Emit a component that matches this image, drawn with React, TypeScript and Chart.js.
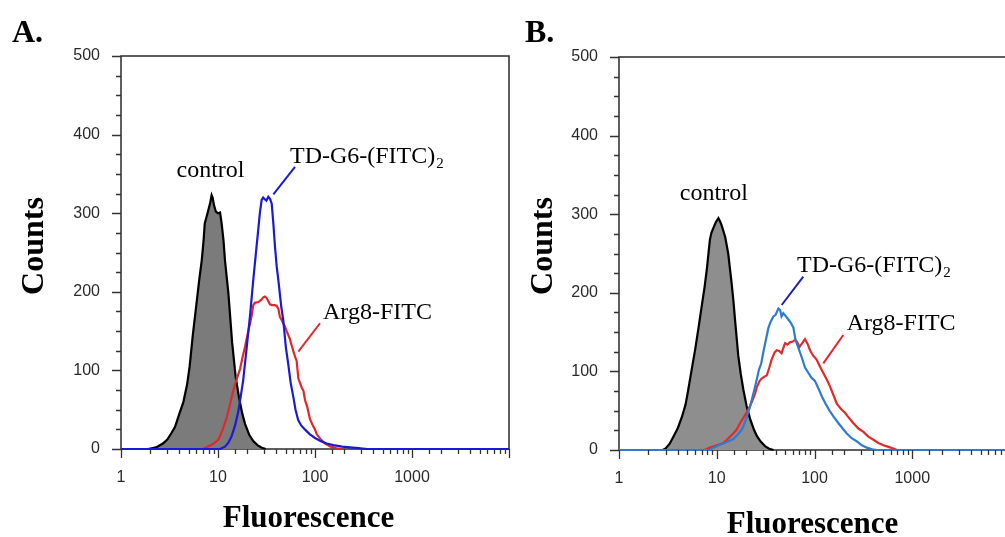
import React, { useEffect, useRef } from 'react';
import { Chart, registerables } from 'chart.js';

Chart.register(...registerables);

// ---------- tick labels ----------
const xTickLabels = [1, 10, 100, 1000];
const yTickLabels = [0, 100, 200, 300, 400, 500];

// ---------- Panel A ----------
const aControlX = [1.9, 2.3, 2.7, 3.0, 3.3, 3.6, 4.0, 4.4, 4.8, 5.1, 5.5, 6.0, 6.4, 6.8, 7.1, 7.3, 7.8, 8.3, 8.6, 8.8, 9.1, 9.5, 10.0, 10.5, 10.9, 11.4, 11.8, 12.8, 14.0, 15.2, 16.5, 17.8, 19.0, 21.0, 23.1, 25.5, 28.0, 31.0];
const aControlY = [0, 2, 7, 12, 20, 28, 45, 60, 82, 105, 145, 185, 215, 240, 265, 287, 300, 313, 323, 320, 310, 302, 300, 301, 287, 265, 240, 198, 135, 92, 65, 45, 32, 18, 10, 5, 2, 0];

const aTdX = [1, 10.5, 11.8, 12.8, 13.8, 15.0, 16.2, 17.2, 18.2, 19.8, 21.4, 23.1, 24.0, 25.0, 26.0, 27.0, 28.2, 29.2, 30.2, 31.5, 33.0, 34.5, 35.8, 37.3, 38.7, 40.3, 41.9, 45.0, 47.0, 50.0, 53.0, 56.0, 60.0, 63.0, 67.0, 72.0, 80.0, 88.0, 100, 115, 132, 155, 190, 230, 280, 345, 10000];
const aTdY = [0, 0, 3, 8, 16, 30, 48, 68, 88, 130, 170, 215, 236, 258, 279, 300, 317, 320, 318, 316, 321, 318, 312, 285, 257, 232, 215, 180, 165, 130, 108, 85, 65, 50, 37, 30, 24, 19, 14, 10, 7, 5, 3, 2, 1, 0, 0];

const aArgX = [1, 7.0, 7.5, 8.5, 9.5, 10.1, 11.2, 12.3, 13.3, 14.4, 15.5, 16.9, 18.0, 19.0, 20.2, 21.4, 22.3, 23.1, 24.0, 26.0, 28.0, 29.3, 30.5, 31.8, 33.0, 34.4, 36.0, 38.7, 40.3, 42.0, 43.5, 45.4, 47.0, 49.0, 51.0, 55.0, 58.0, 62.0, 64.7, 67.3, 70.0, 73.0, 76.0, 79.0, 83.0, 88.8, 95.0, 100, 104, 115, 127, 145, 167, 190];
const aArgY = [0, 0, 2, 5, 9, 12, 25, 40, 57, 75, 88, 102, 118, 130, 146, 160, 170, 183, 186, 187, 190, 193, 194, 192, 188, 184, 183, 183, 182, 178, 168, 164, 160, 156, 150, 140, 130, 118, 112, 90, 84, 78, 74, 62, 54, 38, 30, 25, 19, 12, 7, 3, 1, 0];

// ---------- Panel B ----------
const bControlX = [2.8, 3.0, 3.3, 3.6, 4.0, 4.4, 4.8, 5.1, 5.5, 6.0, 6.5, 7.0, 7.5, 7.9, 8.5, 8.8, 9.2, 9.8, 10.4, 10.8, 11.2, 12.2, 13.1, 14.2, 14.8, 15.4, 16.6, 17.6, 18.7, 20.2, 21.9, 24.0, 25.7, 28.0, 31.2, 34.0, 38.0];
const bControlY = [0, 2, 8, 17, 28, 42, 58, 76, 100, 127, 155, 182, 207, 229, 267, 276, 282, 290, 295, 291, 286, 271, 250, 212, 190, 165, 120, 97, 77, 56, 40, 26, 18, 11, 5, 2, 0];

const bTdX = [1, 8.5, 9.2, 10.5, 12.0, 13.7, 14.8, 16.5, 18.0, 18.7, 20.0, 21.9, 23.7, 25.7, 27.0, 28.5, 30.0, 31.8, 33.7, 35.5, 38.0, 40.0, 42.7, 44.5, 46.0, 48.0, 51.0, 54.0, 57.0, 60.7, 64.0, 68.0, 74.0, 80.0, 86.7, 93.0, 101, 110, 119, 131, 144, 160, 176, 195, 214, 240, 271, 305, 343, 390, 434, 10000];
const bTdY = [0, 0, 3, 6, 9, 12, 14, 20, 26, 30, 40, 55, 72, 90, 102, 110, 125, 140, 155, 163, 170, 172, 180, 178, 170, 174, 170, 166, 162, 156, 140, 131, 118, 105, 98, 92, 88, 78, 68, 58, 49, 41, 34, 27, 21, 15, 11, 6, 3, 1, 0, 0];

const bArgX = [1, 7.5, 8.5, 10.0, 11.7, 12.7, 14.5, 16.0, 17.3, 18.5, 20.3, 21.9, 23.0, 24.7, 25.7, 27.5, 28.8, 30.5, 32.5, 34.5, 36.4, 39.0, 41.0, 43.5, 46.0, 48.0, 50.0, 53.0, 56.0, 60.0, 63.0, 66.0, 70.0, 74.0, 80.0, 85.0, 90.0, 97.0, 105, 114, 123, 133, 144, 156, 169, 187, 206, 228, 250, 283, 317, 355, 401, 450, 507, 570, 641, 700];
const bArgY = [0, 0, 3, 6, 9, 13, 20, 26, 34, 40, 48, 56, 62, 72, 80, 88, 91, 93, 95, 105, 115, 124, 127, 126, 123, 130, 136, 134, 137, 138, 140, 138, 131, 135, 141, 135, 127, 120, 115, 106, 98, 90, 81, 70, 59, 52, 47, 40, 34, 27, 23, 17, 13, 9, 6, 4, 2, 0];

// ---------- annotation anchors (data coordinates) ----------
const aNotes = [
  { text: 'control', x: 8.37, y: 346, align: 'center' },
  { text: 'TD-G6-(FITC)', sub: '2', x: 55.2, y: 364, align: 'left' },
  { text: 'Arg8-FITC', x: 120.9, y: 166, align: 'left' },
];
const aPointers = [
  { x1: 62.2, y1: 359, x2: 37.2, y2: 324, color: '#1a1ad6' },
  { x1: 112.6, y1: 160, x2: 67.3, y2: 124, color: '#e3262b' },
];
const bNotes = [
  { text: 'control', x: 9.33, y: 318, align: 'center' },
  { text: 'TD-G6-(FITC)', sub: '2', x: 66.2, y: 226.5, align: 'left' },
  { text: 'Arg8-FITC', x: 213.4, y: 152.7, align: 'left' },
];
const bPointers = [
  { x1: 76.8, y1: 220.5, x2: 46.2, y2: 184.5, color: '#2020b0' },
  { x1: 197, y1: 146.3, x2: 123, y2: 110.3, color: '#e3262b' },
];

const SERIF = '"Liberation Serif", "Times New Roman", serif';
const SANS = '"Liberation Sans", Arial, sans-serif';

const isDecade = (v: number) => {
  const l = Math.log10(v);
  return Math.abs(l - Math.round(l)) < 1e-6;
};

const pts = (xs: number[], ys: number[]) => xs.map((x, i) => ({ x, y: ys[i] }));

type PanelCfg = {
  letter: string;
  letterX: number;
  countsX: number;
  fluorX: number;
  fluorY: number;
  notes: any[];
  pointers: any[];
};

function decorPlugin(cfg: PanelCfg) {
  return {
    id: 'decor',
    beforeDatasetsDraw(chart: any) {
      const { ctx, chartArea: ca } = chart;
      ctx.save();
      ctx.strokeStyle = '#2a2a2a';
      ctx.lineWidth = 1.5;
      ctx.strokeRect(ca.left, ca.top, ca.right - ca.left, ca.bottom - ca.top);
      ctx.restore();
    },
    afterDraw(chart: any) {
      const { ctx, chartArea: ca, scales } = chart;
      const xs = scales.x;
      const ys = scales.y;
      ctx.save();
      // tick marks
      ctx.strokeStyle = '#333';
      ctx.lineWidth = 1.3;
      ctx.beginPath();
      for (const t of xs.ticks) {
        const px = Math.round(xs.getPixelForValue(t.value)) + 0.5;
        const major = isDecade(t.value);
        ctx.moveTo(px, ca.bottom);
        ctx.lineTo(px, ca.bottom + (major ? 9 : 5));
      }
      for (const t of ys.ticks) {
        const py = Math.round(ys.getPixelForValue(t.value)) + 0.5;
        const major = yTickLabels.includes(t.value);
        ctx.moveTo(ca.left, py);
        ctx.lineTo(ca.left - (major ? 9 : 5), py);
      }
      ctx.stroke();

      // panel letter
      ctx.fillStyle = '#000';
      ctx.textBaseline = 'alphabetic';
      ctx.textAlign = 'left';
      ctx.font = `bold 32px ${SERIF}`;
      ctx.fillText(cfg.letter, cfg.letterX, 42);

      // axis titles
      ctx.save();
      ctx.translate(cfg.countsX, 246);
      ctx.rotate(-Math.PI / 2);
      ctx.textAlign = 'center';
      ctx.font = `bold 32px ${SERIF}`;
      ctx.fillText('Counts', 0, 0);
      ctx.restore();

      ctx.textAlign = 'center';
      ctx.font = `bold 31px ${SERIF}`;
      ctx.fillText('Fluorescence', cfg.fluorX, cfg.fluorY);

      // pointers
      ctx.lineWidth = 2;
      for (const p of cfg.pointers) {
        ctx.strokeStyle = p.color;
        ctx.beginPath();
        ctx.moveTo(xs.getPixelForValue(p.x1), ys.getPixelForValue(p.y1));
        ctx.lineTo(xs.getPixelForValue(p.x2), ys.getPixelForValue(p.y2));
        ctx.stroke();
      }

      // notes
      for (const n of cfg.notes) {
        const px = xs.getPixelForValue(n.x);
        const py = ys.getPixelForValue(n.y);
        ctx.font = `24px ${SERIF}`;
        ctx.textAlign = n.align;
        ctx.fillStyle = '#000';
        ctx.fillText(n.text, px, py);
        if (n.sub) {
          const w = ctx.measureText(n.text).width;
          ctx.font = `15px ${SERIF}`;
          ctx.textAlign = 'left';
          ctx.fillText(n.sub, px + w + 1, py + 5);
        }
      }
      ctx.restore();
    },
  };
}

function buildChart(
  canvas: HTMLCanvasElement,
  sets: { control: any[]; td: any[]; arg: any[] },
  colors: { td: string; arg: string; fill: string },
  pad: { top: number; right: number },
  yWidth: number,
  xHeight: number,
  cfg: PanelCfg
) {
  return new Chart(canvas, {
    type: 'line',
    data: {
      datasets: [
        {
          label: 'TD-G6-(FITC)2',
          data: sets.td,
          borderColor: colors.td,
          borderWidth: 2.2,
          pointRadius: 0,
          fill: false,
          order: 0,
          clip: 6,
        },
        {
          label: 'Arg8-FITC',
          data: sets.arg,
          borderColor: colors.arg,
          borderWidth: 2.2,
          pointRadius: 0,
          fill: false,
          order: 1,
          clip: 6,
        },
        {
          label: 'control',
          data: sets.control,
          borderColor: '#000',
          backgroundColor: colors.fill,
          borderWidth: 2.2,
          pointRadius: 0,
          fill: 'origin',
          order: 2,
          clip: 6,
        },
      ] as any,
    },
    options: {
      responsive: false,
      maintainAspectRatio: false,
      animation: false,
      events: [],
      layout: { padding: { left: 0, top: pad.top, right: pad.right, bottom: 0 } },
      elements: { line: { tension: 0 } },
      plugins: { legend: { display: false }, tooltip: { enabled: false } },
      scales: {
        x: {
          type: 'logarithmic',
          min: 1,
          max: 10000,
          grid: { display: false, drawTicks: false },
          border: { display: false },
          ticks: {
            autoSkip: false,
            maxRotation: 0,
            minRotation: 0,
            padding: 19,
            color: '#2a2a2a',
            font: { family: SANS, size: 16 },
            callback: (v: any) => {
              const n = Number(v);
              return xTickLabels.some((t) => Math.abs(t - n) < 1e-6) ? String(Math.round(n)) : '';
            },
          },
          afterFit: (s: any) => {
            s.height = xHeight;
            s.paddingLeft = 0;
            s.paddingRight = 0;
          },
        },
        y: {
          type: 'linear',
          min: 0,
          max: 500,
          grid: { display: false, drawTicks: false },
          border: { display: false },
          ticks: {
            stepSize: 25,
            autoSkip: false,
            padding: 21,
            color: '#2a2a2a',
            font: { family: SANS, size: 16 },
            callback: (v: any) => (yTickLabels.includes(Number(v)) ? String(v) : ''),
          },
          afterFit: (s: any) => {
            s.width = yWidth;
            s.paddingTop = 0;
            s.paddingBottom = 0;
          },
        },
      },
    } as any,
    plugins: [decorPlugin(cfg)],
  });
}

export default function App() {
  const refA = useRef<HTMLCanvasElement>(null);
  const refB = useRef<HTMLCanvasElement>(null);

  useEffect(() => {
    if (!refA.current || !refB.current) return;
    const chartA = buildChart(
      refA.current,
      { control: pts(aControlX, aControlY), td: pts(aTdX, aTdY), arg: pts(aArgX, aArgY) },
      { td: '#1a1ad6', arg: '#e3262b', fill: '#7b7b7b' },
      { top: 56, right: 11 },
      121,
      88,
      { letter: 'A.', letterX: 12, countsX: 43, fluorX: 308.5, fluorY: 527, notes: aNotes, pointers: aPointers }
    );
    const chartB = buildChart(
      refB.current,
      { control: pts(bControlX, bControlY), td: pts(bTdX, bTdY), arg: pts(bArgX, bArgY) },
      { td: '#2e7bcf', arg: '#e32a2a', fill: '#8e8e8e' },
      { top: 57, right: 10 },
      119,
      87,
      { letter: 'B.', letterX: 25, countsX: 52, fluorX: 312.5, fluorY: 533, notes: bNotes, pointers: bPointers }
    );
    return () => {
      chartA.destroy();
      chartB.destroy();
    };
  }, []);

  return (
    <div
      style={{
        position: 'fixed',
        left: 0,
        top: 0,
        width: 1005,
        height: 537,
        overflow: 'hidden',
        background: '#fff',
      }}
    >
      <canvas
        ref={refA}
        width={520}
        height={537}
        style={{ position: 'absolute', left: 0, top: 0, width: 520, height: 537 }}
      />
      <canvas
        ref={refB}
        width={520}
        height={537}
        style={{ position: 'absolute', left: 500, top: 0, width: 520, height: 537 }}
      />
    </div>
  );
}
